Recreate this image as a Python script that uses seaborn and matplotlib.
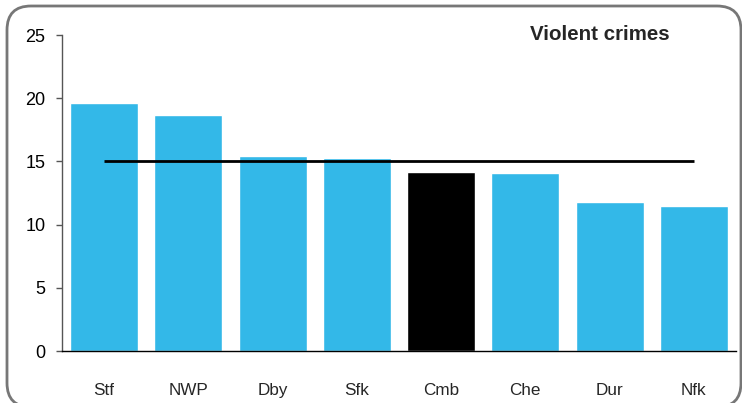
import matplotlib
matplotlib.use("Agg")
import matplotlib.pyplot as plt
import matplotlib.transforms as mtransforms
import seaborn as sns
import pandas as pd
from matplotlib.patches import FancyBboxPatch

categories = ["Stf", "NWP", "Dby", "Sfk", "Cmb", "Che", "Dur", "Nfk"]
values = [19.6, 18.7, 15.4, 15.3, 14.15, 14.1, 11.8, 11.5]
average = [15.05] * 8
highlight = "Cmb"
title = "Violent crimes"

sns.set_theme(style="white")
plt.rcParams["font.family"] = ["Liberation Sans", "DejaVu Sans"]

df = pd.DataFrame({"cat": categories, "val": values})
blue = "#33B8E8"
palette = {c: ("#000000" if c == highlight else blue) for c in categories}

fig = plt.figure(figsize=(7.42, 4.03), dpi=100)
ax = fig.add_axes([62/742, 1-351/403, (736-62)/742, (351-35)/403])

sns.barplot(data=df, x="cat", y="val", hue="cat", palette=palette, width=0.81,
            saturation=1, legend=False, ax=ax)
ax.plot(range(len(categories)), average, color="black", lw=2, solid_capstyle="butt")

ax.set_xlim(-0.5, len(categories) - 0.5)
ax.set_ylim(0, 25)
ax.set_yticks([0, 5, 10, 15, 20, 25])
ax.set_xlabel("")
ax.set_ylabel("")
for s in ["top", "right"]:
    ax.spines[s].set_visible(False)
ax.spines["left"].set_color("#555555")
ax.spines["left"].set_linewidth(1)
ax.spines["bottom"].set_color("black")
ax.spines["bottom"].set_linewidth(1)
ax.tick_params(axis="y", left=True, length=4, width=1, color="#555555",
               labelsize=13, pad=8, colors="#555555", labelcolor="black")
ax.tick_params(axis="x", bottom=False, labelsize=12.3, pad=17)

ax.text(599.5/742, 1 - 35/403, title, transform=fig.transFigure, ha="center",
        va="center", fontsize=14.8, fontweight="bold")

frame = FancyBboxPatch((7, -4), 734, 401,
                       boxstyle="round,pad=0,rounding_size=24",
                       transform=mtransforms.IdentityTransform(), fill=False,
                       edgecolor="#777777", lw=2, clip_on=False)
fig.patches.append(frame)

fig.savefig("out.png", dpi=100)
